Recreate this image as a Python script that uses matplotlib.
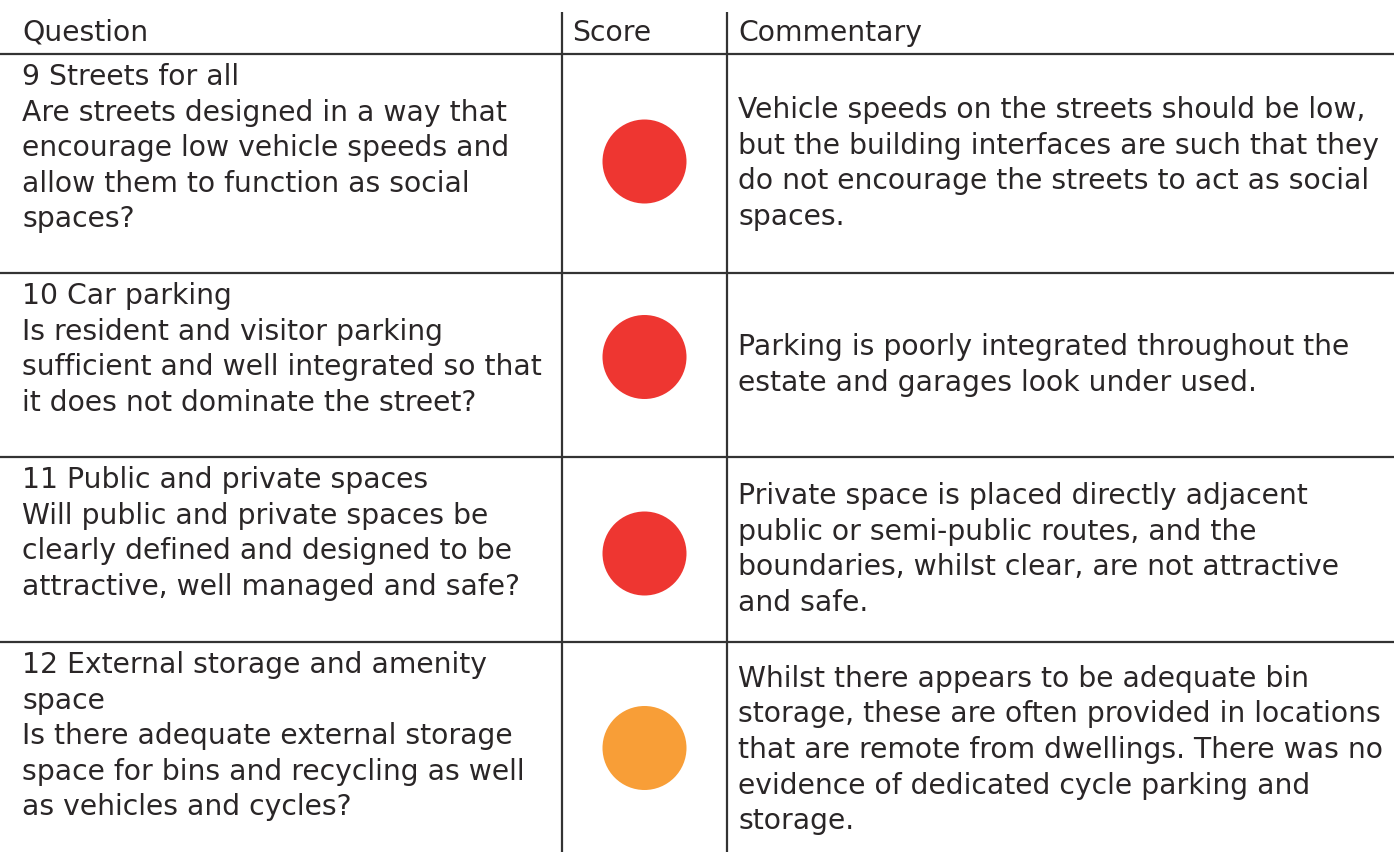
import matplotlib
matplotlib.use("Agg")
import matplotlib.pyplot as plt
from matplotlib.patches import Circle

headers = ["Question", "Score", "Commentary"]
questions = [
    "9 Streets for all\nAre streets designed in a way that\nencourage low vehicle speeds and\nallow them to function as social\nspaces?",
    "10 Car parking\nIs resident and visitor parking\nsufficient and well integrated so that\nit does not dominate the street?",
    "11 Public and private spaces\nWill public and private spaces be\nclearly defined and designed to be\nattractive, well managed and safe?",
    "12 External storage and amenity\nspace\nIs there adequate external storage\nspace for bins and recycling as well\nas vehicles and cycles?",
]
scores = ["red", "red", "red", "amber"]
comments = [
    "Vehicle speeds on the streets should be low,\nbut the building interfaces are such that they\ndo not encourage the streets to act as social\nspaces.",
    "Parking is poorly integrated throughout the\nestate and garages look under used.",
    "Private space is placed directly adjacent\npublic or semi-public routes, and the\nboundaries, whilst clear, are not attractive\nand safe.",
    "Whilst there appears to be adequate bin\nstorage, these are often provided in locations\nthat are remote from dwellings. There was no\nevidence of dedicated cycle parking and\nstorage.",
]
score_colors = {"red": "#EE3631", "amber": "#F89E37"}

W, H = 1394, 852
fig = plt.figure(figsize=(W / 100, H / 100), dpi=100)
ax = fig.add_axes([0, 0, 1, 1])
ax.set_xlim(0, W)
ax.set_ylim(H, 0)
ax.axis("off")

line_col = "#333333"
lw = 1.6
row_edges = [54, 273, 457, 642, 852]
col_x = [562, 727]
for y in row_edges[:-1]:
    ax.plot([0, W], [y, y], color=line_col, lw=lw, solid_capstyle="butt")
for x in col_x:
    ax.plot([x, x], [12, H], color=line_col, lw=lw, solid_capstyle="butt")

font = dict(family="DejaVu Sans", fontsize=20.3, color="#2a2627")
lsp = 35.6
ax.text(22, 33, headers[0], va="center", ha="left", **font)
ax.text(572, 33, headers[1], va="center", ha="left", **font)
ax.text(738, 33, headers[2], va="center", ha="left", **font)

score_cx = (col_x[0] + col_x[1]) / 2
for i in range(len(questions)):
    top, bot = row_edges[i], row_edges[i + 1]
    for j, line in enumerate(questions[i].split("\n")):
        ax.text(22, top + 23 + j * lsp, line, va="center", ha="left", **font)
    clines = comments[i].split("\n")
    mid = (top + bot) / 2 + (3 if i == 3 else 0)
    start = mid - (len(clines) - 1) * lsp / 2
    for j, line in enumerate(clines):
        ax.text(738, start + j * lsp, line, va="center", ha="left", **font)
    circ_y = (top + bot) / 2 - (2 if i == 0 else 0) + (-8 if i == 1 else 0) + (4 if i == 2 else 0) + (1 if i == 3 else 0)
    ax.add_patch(Circle((score_cx, circ_y), 42, color=score_colors[scores[i]], lw=0))

fig.savefig("out.png", dpi=100)
